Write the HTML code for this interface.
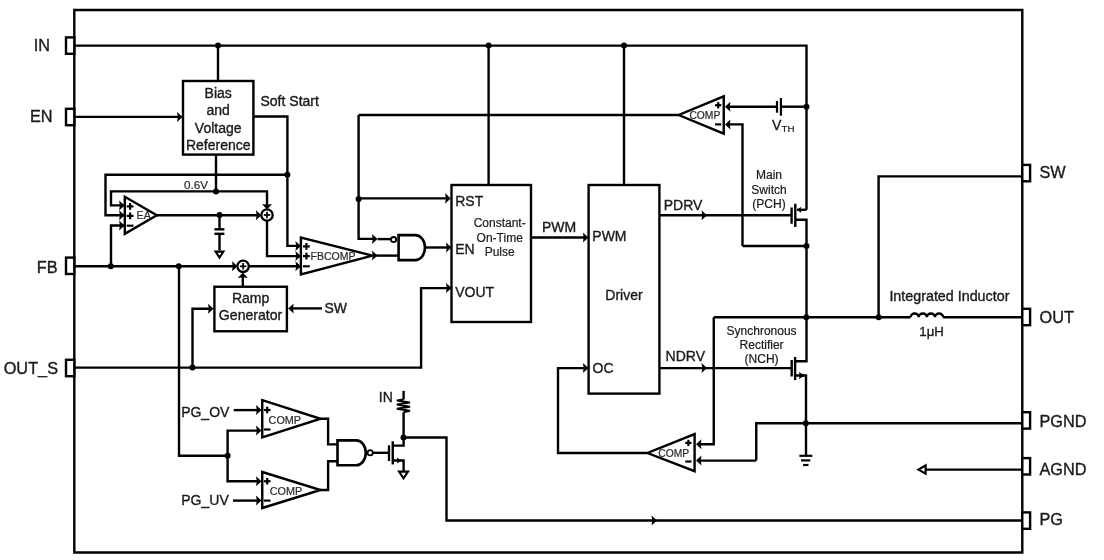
<!DOCTYPE html>
<html><head><meta charset="utf-8"><style>
html,body{margin:0;padding:0;background:#fff;}
svg{display:block;will-change:transform;}
text{font-family:"Liberation Sans",sans-serif;}
</style></head><body>
<svg width="1104" height="560" viewBox="0 0 1104 560">
<rect x="0" y="0" width="1104" height="560" fill="#fff"/>
<path d="M74.3,10 L1022.3,10 L1022.3,552.5 L74.3,552.5 Z" fill="none" stroke="#000" stroke-width="2.4"/>
<rect x="66" y="37.4" width="8.3" height="16.4" fill="#fff" stroke="#000" stroke-width="2.4"/>
<text x="50" y="51" font-size="16.3" text-anchor="end" fill="#1a1a1a" stroke="#1a1a1a" stroke-width="0.35" >IN</text>
<rect x="66" y="108.8" width="8.3" height="16.4" fill="#fff" stroke="#000" stroke-width="2.4"/>
<text x="52.5" y="122" font-size="16.3" text-anchor="end" fill="#1a1a1a" stroke="#1a1a1a" stroke-width="0.35" >EN</text>
<rect x="66" y="257.6" width="8.3" height="16.4" fill="#fff" stroke="#000" stroke-width="2.4"/>
<text x="57.5" y="272.6" font-size="16.3" text-anchor="end" fill="#1a1a1a" stroke="#1a1a1a" stroke-width="0.35" >FB</text>
<rect x="66" y="359.8" width="8.3" height="16.4" fill="#fff" stroke="#000" stroke-width="2.4"/>
<text x="58" y="373.8" font-size="16.3" text-anchor="end" fill="#1a1a1a" stroke="#1a1a1a" stroke-width="0.35" >OUT_S</text>
<rect x="1022.3" y="164.9" width="7.8" height="16.4" fill="#fff" stroke="#000" stroke-width="2.4"/>
<text x="1039.5" y="177.6" font-size="16.3" text-anchor="start" fill="#1a1a1a" stroke="#1a1a1a" stroke-width="0.35" >SW</text>
<rect x="1022.3" y="308.8" width="7.8" height="16.4" fill="#fff" stroke="#000" stroke-width="2.4"/>
<text x="1039.5" y="323" font-size="16.3" text-anchor="start" fill="#1a1a1a" stroke="#1a1a1a" stroke-width="0.35" >OUT</text>
<rect x="1022.3" y="412.2" width="7.8" height="16.4" fill="#fff" stroke="#000" stroke-width="2.4"/>
<text x="1039.5" y="427.3" font-size="16.3" text-anchor="start" fill="#1a1a1a" stroke="#1a1a1a" stroke-width="0.35" >PGND</text>
<rect x="1022.3" y="458.1" width="7.8" height="16.4" fill="#fff" stroke="#000" stroke-width="2.4"/>
<text x="1039.5" y="474.8" font-size="16.3" text-anchor="start" fill="#1a1a1a" stroke="#1a1a1a" stroke-width="0.35" >AGND</text>
<rect x="1022.3" y="512.4" width="7.8" height="16.4" fill="#fff" stroke="#000" stroke-width="2.4"/>
<text x="1039.5" y="525" font-size="16.3" text-anchor="start" fill="#1a1a1a" stroke="#1a1a1a" stroke-width="0.35" >PG</text>
<path d="M74.3,45.6 L806.5,45.6 L806.5,209.8" fill="none" stroke="#000" stroke-width="2.4"/>
<circle cx="218" cy="45.6" r="3" fill="#000"/>
<circle cx="488.6" cy="45.6" r="3" fill="#000"/>
<circle cx="624" cy="45.6" r="3" fill="#000"/>
<path d="M218,45.6 L218,81" fill="none" stroke="#000" stroke-width="2.4"/>
<path d="M488.6,45.6 L488.6,185" fill="none" stroke="#000" stroke-width="2.4"/>
<path d="M624,45.6 L624,185" fill="none" stroke="#000" stroke-width="2.4"/>
<rect x="183" y="81" width="70.4" height="73.6" fill="#fff" stroke="#000" stroke-width="2.4"/>
<text x="218.2" y="97.5" font-size="14" text-anchor="middle" fill="#1a1a1a" stroke="#1a1a1a" stroke-width="0.35" >Bias</text>
<text x="218.2" y="114.5" font-size="14" text-anchor="middle" fill="#1a1a1a" stroke="#1a1a1a" stroke-width="0.35" >and</text>
<text x="218.2" y="132.6" font-size="14" text-anchor="middle" fill="#1a1a1a" stroke="#1a1a1a" stroke-width="0.35" >Voltage</text>
<text x="218.2" y="149.6" font-size="14" text-anchor="middle" fill="#1a1a1a" stroke="#1a1a1a" stroke-width="0.35" >Reference</text>
<path d="M74.3,116.9 L181,116.9" fill="none" stroke="#000" stroke-width="2.4"/>
<path d="M182.5,116.9 L177,111.9 L177.8,116.9 L177,121.9 Z" fill="#000" stroke="none"/>
<text x="260.5" y="105.6" font-size="14" text-anchor="start" fill="#1a1a1a" stroke="#1a1a1a" stroke-width="0.35" >Soft Start</text>
<path d="M253.4,116.5 L287.4,116.5 L287.4,245.9 L300,245.9" fill="none" stroke="#000" stroke-width="2.4"/>
<path d="M300.9,245.9 L295.4,240.9 L296.2,245.9 L295.4,250.9 Z" fill="#000" stroke="none"/>
<circle cx="287.4" cy="174.75" r="3" fill="#000"/>
<path d="M287.4,174.75 L105.5,174.75 L105.5,215.3 L124,215.3" fill="none" stroke="#000" stroke-width="2.4"/>
<path d="M124.6,215.3 L119.1,210.3 L119.9,215.3 L119.1,220.3 Z" fill="#000" stroke="none"/>
<path d="M216,154.6 L216,191.4" fill="none" stroke="#000" stroke-width="2.4"/>
<circle cx="216" cy="191.4" r="3" fill="#000"/>
<text x="208" y="189" font-size="11.7" text-anchor="end" fill="#2a2a2a" stroke="#2a2a2a" stroke-width="0.2" >0.6V</text>
<path d="M124,205.4 L111,205.4 L111,191.4 L267,191.4 L267,208" fill="none" stroke="#000" stroke-width="2.4"/>
<path d="M267,209.4 L262,203.9 L267,204.7 L272,203.9 Z" fill="#000" stroke="none"/>
<path d="M124.6,205.4 L119.1,200.4 L119.9,205.4 L119.1,210.4 Z" fill="#000" stroke="none"/>
<path d="M111,266.4 L111,225.5 L124,225.5" fill="none" stroke="#000" stroke-width="2.4"/>
<path d="M124.6,225.5 L119.1,220.5 L119.9,225.5 L119.1,230.5 Z" fill="#000" stroke="none"/>
<path d="M124.8,196.8 L124.8,233.8 L156.8,215.3 Z" fill="#fff" stroke="#000" stroke-width="2.4"/>
<path d="M126.7,206.4 L133.5,206.4" fill="none" stroke="#000" stroke-width="2.2"/>
<path d="M130.1,203 L130.1,209.8" fill="none" stroke="#000" stroke-width="2.2"/>
<path d="M126.7,215.9 L133.5,215.9" fill="none" stroke="#000" stroke-width="2.2"/>
<path d="M130.1,212.5 L130.1,219.3" fill="none" stroke="#000" stroke-width="2.2"/>
<path d="M126.7,225.7 L133.5,225.7" fill="none" stroke="#000" stroke-width="2.2"/>
<text x="136.6" y="218.75" font-size="10.7" text-anchor="start" fill="#2a2a2a" stroke="#2a2a2a" stroke-width="0.2" >EA</text>
<path d="M156.8,215.2 L259,215.2" fill="none" stroke="#000" stroke-width="2.4"/>
<path d="M261.4,215.2 L255.9,210.2 L256.7,215.2 L255.9,220.2 Z" fill="#000" stroke="none"/>
<circle cx="219.5" cy="215" r="3" fill="#000"/>
<path d="M219.5,215 L219.5,229.3" fill="none" stroke="#000" stroke-width="2.4"/>
<path d="M214.4,229.3 L224.4,229.3" fill="none" stroke="#000" stroke-width="2.4"/>
<path d="M214.4,233.8 L224.4,233.8" fill="none" stroke="#000" stroke-width="2.4"/>
<path d="M219.5,233.8 L219.5,250.6" fill="none" stroke="#000" stroke-width="2.4"/>
<path d="M215.6,251.6 L223.4,251.6 L219.5,257.6 Z" fill="#fff" stroke="#000" stroke-width="2.1"/>
<circle cx="267" cy="215" r="5.7" fill="#fff" stroke="#000" stroke-width="2.3"/>
<path d="M263.8,215 L270.2,215" fill="none" stroke="#000" stroke-width="1.7"/>
<path d="M267,211.8 L267,218.2" fill="none" stroke="#000" stroke-width="1.7"/>
<path d="M267,220.6 L267,256.1 L300,256.1" fill="none" stroke="#000" stroke-width="2.4"/>
<path d="M300.9,256.1 L295.4,251.1 L296.2,256.1 L295.4,261.1 Z" fill="#000" stroke="none"/>
<path d="M74.3,266.3 L236,266.3" fill="none" stroke="#000" stroke-width="2.4"/>
<path d="M237.5,266.3 L232,261.3 L232.8,266.3 L232,271.3 Z" fill="#000" stroke="none"/>
<circle cx="110.75" cy="266.3" r="3" fill="#000"/>
<circle cx="178.75" cy="266.3" r="3" fill="#000"/>
<circle cx="243.1" cy="266.3" r="5.7" fill="#fff" stroke="#000" stroke-width="2.3"/>
<path d="M239.9,266.3 L246.3,266.3" fill="none" stroke="#000" stroke-width="1.7"/>
<path d="M243.1,263.1 L243.1,269.5" fill="none" stroke="#000" stroke-width="1.7"/>
<path d="M248.7,266.3 L300,266.3" fill="none" stroke="#000" stroke-width="2.4"/>
<path d="M300.9,266.3 L295.4,261.3 L296.2,266.3 L295.4,271.3 Z" fill="#000" stroke="none"/>
<path d="M242.8,286.75 L242.8,274" fill="none" stroke="#000" stroke-width="2.4"/>
<path d="M242.8,272.5 L237.8,278 L242.8,277.2 L247.8,278 Z" fill="#000" stroke="none"/>
<path d="M300.9,237.6 L300.9,274.4 L372.5,255.6 Z" fill="#fff" stroke="#000" stroke-width="2.4"/>
<path d="M303,246.4 L309.8,246.4" fill="none" stroke="#000" stroke-width="2.2"/>
<path d="M306.4,243 L306.4,249.8" fill="none" stroke="#000" stroke-width="2.2"/>
<path d="M303,256.1 L309.8,256.1" fill="none" stroke="#000" stroke-width="2.2"/>
<path d="M306.4,252.7 L306.4,259.5" fill="none" stroke="#000" stroke-width="2.2"/>
<path d="M303,266.3 L309.8,266.3" fill="none" stroke="#000" stroke-width="2.2"/>
<text x="310.6" y="260" font-size="10.5" text-anchor="start" fill="#2a2a2a" stroke="#2a2a2a" stroke-width="0.2" >FBCOMP</text>
<path d="M372.5,255.6 L398.75,255.6" fill="none" stroke="#000" stroke-width="2.4"/>
<path d="M377.5,255.6 L372,250.6 L372.8,255.6 L372,260.6 Z" fill="#000" stroke="none"/>
<path d="M415.3,235.1 L398.6,235.1 L398.6,260.1 L415.3,260.1 A9.7,12.500000000000014 0 0 0 415.3,235.1 Z" fill="#fff" stroke="#000" stroke-width="2.6"/>
<circle cx="393.6" cy="239.6" r="2.6" fill="#fff" stroke="#000" stroke-width="1.8"/>
<path d="M358.6,115 L358.6,238.9 L376,238.9" fill="none" stroke="#000" stroke-width="2.4"/>
<path d="M377.5,238.9 L372,233.9 L372.8,238.9 L372,243.9 Z" fill="#000" stroke="none"/>
<path d="M377.5,239.1 L391.4,239.1" fill="none" stroke="#000" stroke-width="2.4"/>
<circle cx="358.6" cy="199" r="3" fill="#000"/>
<path d="M358.6,198.4 L449,198.4" fill="none" stroke="#000" stroke-width="2.4"/>
<path d="M450.6,198.4 L445.1,193 L445.9,198.4 L445.1,203.8 Z" fill="#000" stroke="none"/>
<path d="M425,247.5 L450,247.5" fill="none" stroke="#000" stroke-width="2.4"/>
<path d="M451.5,247.5 L446,242.5 L446.8,247.5 L446,252.5 Z" fill="#000" stroke="none"/>
<rect x="451.5" y="185" width="79.5" height="137" fill="#fff" stroke="#000" stroke-width="2.4"/>
<text x="455.2" y="205.6" font-size="14" text-anchor="start" fill="#1a1a1a" stroke="#1a1a1a" stroke-width="0.35" >RST</text>
<text x="455.2" y="253.8" font-size="14" text-anchor="start" fill="#1a1a1a" stroke="#1a1a1a" stroke-width="0.35" >EN</text>
<text x="455.2" y="296.9" font-size="14" text-anchor="start" fill="#1a1a1a" stroke="#1a1a1a" stroke-width="0.35" >VOUT</text>
<text x="499.7" y="226.9" font-size="12" text-anchor="middle" fill="#1a1a1a" stroke="#1a1a1a" stroke-width="0.2" >Constant-</text>
<text x="499.7" y="241.5" font-size="12" text-anchor="middle" fill="#1a1a1a" stroke="#1a1a1a" stroke-width="0.2" >On-Time</text>
<text x="499.7" y="255.6" font-size="12" text-anchor="middle" fill="#1a1a1a" stroke="#1a1a1a" stroke-width="0.2" >Pulse</text>
<path d="M74.3,367.6 L421.1,367.6 L421.1,288.1 L450,288.1" fill="none" stroke="#000" stroke-width="2.4"/>
<path d="M451.5,288.1 L446,283.1 L446.8,288.1 L446,293.1 Z" fill="#000" stroke="none"/>
<circle cx="192.5" cy="367.6" r="3" fill="#000"/>
<path d="M192.5,367.6 L192.5,308.75 L212,308.75" fill="none" stroke="#000" stroke-width="2.4"/>
<path d="M213.5,308.75 L208,303.75 L208.8,308.75 L208,313.75 Z" fill="#000" stroke="none"/>
<rect x="214.4" y="286.75" width="72.5" height="44.5" fill="#fff" stroke="#000" stroke-width="2.4"/>
<text x="250.6" y="302.5" font-size="14" text-anchor="middle" fill="#1a1a1a" stroke="#1a1a1a" stroke-width="0.35" >Ramp</text>
<text x="250.6" y="320.4" font-size="14.1" text-anchor="middle" fill="#1a1a1a" stroke="#1a1a1a" stroke-width="0.35" >Generator</text>
<path d="M322,308.4 L290,308.4" fill="none" stroke="#000" stroke-width="2.4"/>
<path d="M288.2,308.4 L293.7,303.4 L292.9,308.4 L293.7,313.4 Z" fill="#000" stroke="none"/>
<text x="324.5" y="312.5" font-size="14" text-anchor="start" fill="#1a1a1a" stroke="#1a1a1a" stroke-width="0.35" >SW</text>
<path d="M531,237.5 L587,237.5" fill="none" stroke="#000" stroke-width="2.4"/>
<path d="M588.4,237.5 L582.9,232.5 L583.7,237.5 L582.9,242.5 Z" fill="#000" stroke="none"/>
<text x="541.9" y="231.9" font-size="14" text-anchor="start" fill="#1a1a1a" stroke="#1a1a1a" stroke-width="0.35" >PWM</text>
<rect x="588.6" y="185" width="70.8" height="208.6" fill="#fff" stroke="#000" stroke-width="2.4"/>
<text x="592.3" y="240.6" font-size="14" text-anchor="start" fill="#1a1a1a" stroke="#1a1a1a" stroke-width="0.35" >PWM</text>
<text x="624" y="299.75" font-size="14" text-anchor="middle" fill="#1a1a1a" stroke="#1a1a1a" stroke-width="0.35" >Driver</text>
<text x="592.5" y="372.75" font-size="14" text-anchor="start" fill="#1a1a1a" stroke="#1a1a1a" stroke-width="0.35" >OC</text>
<path d="M659.4,215.3 L791.6,215.3" fill="none" stroke="#000" stroke-width="2.4"/>
<path d="M707,215.3 L701.5,210.3 L702.3,215.3 L701.5,220.3 Z" fill="#000" stroke="none"/>
<text x="663.75" y="209.75" font-size="14" text-anchor="start" fill="#1a1a1a" stroke="#1a1a1a" stroke-width="0.35" >PDRV</text>
<path d="M659.4,368.1 L791.6,368.1" fill="none" stroke="#000" stroke-width="2.4"/>
<path d="M707,368.1 L701.5,363.1 L702.3,368.1 L701.5,373.1 Z" fill="#000" stroke="none"/>
<text x="665.6" y="360.6" font-size="14" text-anchor="start" fill="#1a1a1a" stroke="#1a1a1a" stroke-width="0.35" >NDRV</text>
<path d="M723.75,96.4 L723.75,133.6 L678.75,115 Z" fill="#fff" stroke="#000" stroke-width="2.4"/>
<path d="M715.1,105.2 L721.3,105.2" fill="none" stroke="#000" stroke-width="2.2"/>
<path d="M718.2,102.1 L718.2,108.3" fill="none" stroke="#000" stroke-width="2.2"/>
<path d="M715.1,124.4 L721.3,124.4" fill="none" stroke="#000" stroke-width="2.2"/>
<text x="689.4" y="118.75" font-size="10.3" text-anchor="start" fill="#2a2a2a" stroke="#2a2a2a" stroke-width="0.2" >COMP</text>
<path d="M678.75,115 L358.6,115" fill="none" stroke="#000" stroke-width="2.4"/>
<path d="M806.5,106.7 L780.9,106.7" fill="none" stroke="#000" stroke-width="2.4"/>
<path d="M777,106.7 L727,106.7" fill="none" stroke="#000" stroke-width="2.4"/>
<path d="M725,106.7 L730.5,101.7 L729.7,106.7 L730.5,111.7 Z" fill="#000" stroke="none"/>
<path d="M777,101.1 L777,112.7" fill="none" stroke="#000" stroke-width="2.2"/>
<path d="M780.9,98.1 L780.9,115.7" fill="none" stroke="#000" stroke-width="2.2"/>
<circle cx="806.5" cy="106.7" r="3" fill="#000"/>
<text x="772" y="130.2" font-size="14" text-anchor="start" fill="#1a1a1a" stroke="#1a1a1a" stroke-width="0.35" >V</text>
<text x="781.6" y="131.8" font-size="9.8" text-anchor="start" fill="#1a1a1a" stroke="#1a1a1a" stroke-width="0.2" >TH</text>
<path d="M742.5,246 L742.5,124.4 L727,124.4" fill="none" stroke="#000" stroke-width="2.4"/>
<path d="M725,124.4 L730.5,119.4 L729.7,124.4 L730.5,129.4 Z" fill="#000" stroke="none"/>
<path d="M742.5,246 L806.5,246" fill="none" stroke="#000" stroke-width="2.4"/>
<circle cx="806.5" cy="246" r="3" fill="#000"/>
<text x="769" y="178.75" font-size="12" text-anchor="middle" fill="#1a1a1a" stroke="#1a1a1a" stroke-width="0.2" >Main</text>
<text x="769" y="193.75" font-size="12" text-anchor="middle" fill="#1a1a1a" stroke="#1a1a1a" stroke-width="0.2" >Switch</text>
<text x="769" y="207.5" font-size="12" text-anchor="middle" fill="#1a1a1a" stroke="#1a1a1a" stroke-width="0.2" >(PCH)</text>
<path d="M791.6,207.5 L791.6,223.75" fill="none" stroke="#000" stroke-width="2.4"/>
<path d="M795.3,203.75 L795.3,226.9" fill="none" stroke="#000" stroke-width="2.4"/>
<path d="M806.5,209.8 L797,209.8" fill="none" stroke="#000" stroke-width="2.4"/>
<path d="M797,209.8 L801.2,206.7 L800.6,209.8 L801.2,212.9 Z" fill="#000" stroke="none"/>
<path d="M795.3,219.75 L806.5,219.75 L806.5,361.25 L795.1,361.25" fill="none" stroke="#000" stroke-width="2.4"/>
<path d="M713.75,317.2 L910.6,317.2" fill="none" stroke="#000" stroke-width="2.4"/>
<path d="M943.1,317.2 L1022.3,317.2" fill="none" stroke="#000" stroke-width="2.4"/>
<circle cx="806.3" cy="317.2" r="3" fill="#000"/>
<circle cx="878.6" cy="317.2" r="3" fill="#000"/>
<path d="M910.6,317.2 A4.0625,3.7 0 0 1 918.725,317.2 A4.0625,3.7 0 0 1 926.85,317.2 A4.0625,3.7 0 0 1 934.975,317.2 A4.0625,3.7 0 0 1 943.1,317.2" fill="none" stroke="#000" stroke-width="2.4"/>
<text x="949.4" y="300.8" font-size="14.3" text-anchor="middle" fill="#1a1a1a" stroke="#1a1a1a" stroke-width="0.35" >Integrated Inductor</text>
<text x="931.6" y="335.6" font-size="13.2" text-anchor="middle" fill="#1a1a1a" stroke="#1a1a1a" stroke-width="0.35" >1μH</text>
<path d="M878.6,317.2 L878.6,176.4 L1022.3,176.4" fill="none" stroke="#000" stroke-width="2.4"/>
<text x="761.6" y="335.2" font-size="12" text-anchor="middle" fill="#1a1a1a" stroke="#1a1a1a" stroke-width="0.2" >Synchronous</text>
<text x="761.6" y="349" font-size="12" text-anchor="middle" fill="#1a1a1a" stroke="#1a1a1a" stroke-width="0.2" >Rectifier</text>
<text x="761.6" y="362.8" font-size="12" text-anchor="middle" fill="#1a1a1a" stroke="#1a1a1a" stroke-width="0.2" >(NCH)</text>
<path d="M791.7,360 L791.7,376.5" fill="none" stroke="#000" stroke-width="2.4"/>
<path d="M795.1,357 L795.1,380" fill="none" stroke="#000" stroke-width="2.4"/>
<path d="M805,375.5 L799,372 L799.6,375.5 L799,379 Z" fill="#000" stroke="none"/>
<path d="M795.1,375.5 L806,375.5 L806,455.8" fill="none" stroke="#000" stroke-width="2.4"/>
<path d="M756.25,460.6 L756.25,423.3 L1022.3,423.3" fill="none" stroke="#000" stroke-width="2.4"/>
<circle cx="805.8" cy="423.3" r="3" fill="#000"/>
<path d="M799.4,455.8 L812.3,455.8" fill="none" stroke="#000" stroke-width="2.2"/>
<path d="M801,460.4 L810.3,460.4" fill="none" stroke="#000" stroke-width="2.2"/>
<path d="M803.1,465 L808.5,465" fill="none" stroke="#000" stroke-width="2.2"/>
<path d="M694.6,434.1 L694.6,471.2 L647.5,453 Z" fill="#fff" stroke="#000" stroke-width="2.4"/>
<path d="M685.3,442.9 L691.5,442.9" fill="none" stroke="#000" stroke-width="2.2"/>
<path d="M688.4,439.8 L688.4,446" fill="none" stroke="#000" stroke-width="2.2"/>
<path d="M685.3,461.5 L691.5,461.5" fill="none" stroke="#000" stroke-width="2.2"/>
<text x="658.3" y="456.7" font-size="10.3" text-anchor="start" fill="#2a2a2a" stroke="#2a2a2a" stroke-width="0.2" >COMP</text>
<path d="M713.75,317.2 L713.75,444.3 L698,444.3" fill="none" stroke="#000" stroke-width="2.4"/>
<path d="M696,444.3 L701.5,439.3 L700.7,444.3 L701.5,449.3 Z" fill="#000" stroke="none"/>
<path d="M756.25,460.6 L698,460.6" fill="none" stroke="#000" stroke-width="2.4"/>
<path d="M696,460.6 L701.5,455.6 L700.7,460.6 L701.5,465.6 Z" fill="#000" stroke="none"/>
<path d="M647.5,453 L558,453 L558,368.1 L587,368.1" fill="none" stroke="#000" stroke-width="2.4"/>
<path d="M588.4,368.1 L582.9,363.1 L583.7,368.1 L582.9,373.1 Z" fill="#000" stroke="none"/>
<path d="M1022.3,469.6 L926,469.6" fill="none" stroke="#000" stroke-width="2.4"/>
<path d="M918.4,469.6 L925.6,465.5 L925.6,473.7 Z" fill="#fff" stroke="#000" stroke-width="2.2"/>
<path d="M1022.3,520.5 L446.5,520.5 L446.5,437.5 L403.5,437.5" fill="none" stroke="#000" stroke-width="2.4"/>
<path d="M657,520.5 L651.5,515.5 L652.3,520.5 L651.5,525.5 Z" fill="#000" stroke="none"/>
<circle cx="403.5" cy="437.5" r="3" fill="#000"/>
<path d="M403.6,390.9 L403.6,399.4" fill="none" stroke="#000" stroke-width="2.4"/>
<path d="M403.6,399.4 L396.8,400.5 L410,402.5 L396.8,404.6 L410,406.8 L396.8,408.8 L410,410.7 L403.6,412.3" fill="none" stroke="#000" stroke-width="2.0"/>
<path d="M403.6,412.3 L403.6,445.6 L392.75,445.6" fill="none" stroke="#000" stroke-width="2.4"/>
<text x="392.8" y="402.2" font-size="14" text-anchor="end" fill="#1a1a1a" stroke="#1a1a1a" stroke-width="0.35" >IN</text>
<path d="M389,445.3 L389,461" fill="none" stroke="#000" stroke-width="2.3"/>
<path d="M392.75,441.25 L392.75,464.4" fill="none" stroke="#000" stroke-width="2.4"/>
<path d="M401.5,460.5 L397,457.5 L397.6,460.5 L397,463.5 Z" fill="#000" stroke="none"/>
<path d="M392.75,460.5 L403.6,460.5 L403.6,471.6" fill="none" stroke="#000" stroke-width="2.4"/>
<path d="M399,471.6 L408,471.6 L403.5,478.3 Z" fill="#fff" stroke="#000" stroke-width="2.1"/>
<path d="M356.3,440.4 L337.5,440.4 L337.5,465.25 L356.3,465.25 A9.5,12.425000000000011 0 0 0 356.3,440.4 Z" fill="#fff" stroke="#000" stroke-width="2.6"/>
<circle cx="370.2" cy="452.8" r="2.6" fill="#fff" stroke="#000" stroke-width="1.8"/>
<path d="M372.5,452.8 L389,452.8" fill="none" stroke="#000" stroke-width="2.4"/>
<path d="M262.25,400.2 L262.25,437.3 L320.6,418.75 Z" fill="#fff" stroke="#000" stroke-width="2.4"/>
<path d="M263.9,410 L270.5,410" fill="none" stroke="#000" stroke-width="2.2"/>
<path d="M267.2,406.7 L267.2,413.3" fill="none" stroke="#000" stroke-width="2.2"/>
<path d="M263.9,429.5 L270.5,429.5" fill="none" stroke="#000" stroke-width="2.2"/>
<text x="268.6" y="423.9" font-size="10.8" text-anchor="start" fill="#2a2a2a" stroke="#2a2a2a" stroke-width="0.2" >COMP</text>
<path d="M320.6,418.75 L328.1,418.75 L328.1,444.4 L337.5,444.4" fill="none" stroke="#000" stroke-width="2.4"/>
<path d="M262.25,472 L262.25,508 L320.6,490 Z" fill="#fff" stroke="#000" stroke-width="2.4"/>
<path d="M263.9,481.25 L270.5,481.25" fill="none" stroke="#000" stroke-width="2.2"/>
<path d="M267.2,477.95 L267.2,484.55" fill="none" stroke="#000" stroke-width="2.2"/>
<path d="M263.9,500.6 L270.5,500.6" fill="none" stroke="#000" stroke-width="2.2"/>
<text x="269.8" y="494.9" font-size="10.8" text-anchor="start" fill="#2a2a2a" stroke="#2a2a2a" stroke-width="0.2" >COMP</text>
<path d="M320.6,490 L328.1,490 L328.1,461.25 L337.5,461.25" fill="none" stroke="#000" stroke-width="2.4"/>
<path d="M233.75,410.1 L260,410.1" fill="none" stroke="#000" stroke-width="2.4"/>
<path d="M261.5,410.1 L256,405.1 L256.8,410.1 L256,415.1 Z" fill="#000" stroke="none"/>
<text x="229.4" y="416.5" font-size="14" text-anchor="end" fill="#1a1a1a" stroke="#1a1a1a" stroke-width="0.35" >PG_OV</text>
<path d="M233,500.6 L260,500.6" fill="none" stroke="#000" stroke-width="2.4"/>
<path d="M261.5,500.6 L256,495.6 L256.8,500.6 L256,505.6 Z" fill="#000" stroke="none"/>
<text x="228.75" y="504.6" font-size="14" text-anchor="end" fill="#1a1a1a" stroke="#1a1a1a" stroke-width="0.35" >PG_UV</text>
<path d="M179,266.3 L179,455.8 L227.6,455.8" fill="none" stroke="#000" stroke-width="2.4"/>
<circle cx="227.6" cy="455.8" r="3" fill="#000"/>
<path d="M260,430.6 L227.6,430.6 L227.6,481.25 L260,481.25" fill="none" stroke="#000" stroke-width="2.4"/>
<path d="M261.5,430.6 L256,425.6 L256.8,430.6 L256,435.6 Z" fill="#000" stroke="none"/>
<path d="M261.5,481.25 L256,476.25 L256.8,481.25 L256,486.25 Z" fill="#000" stroke="none"/>
</svg></body></html>
